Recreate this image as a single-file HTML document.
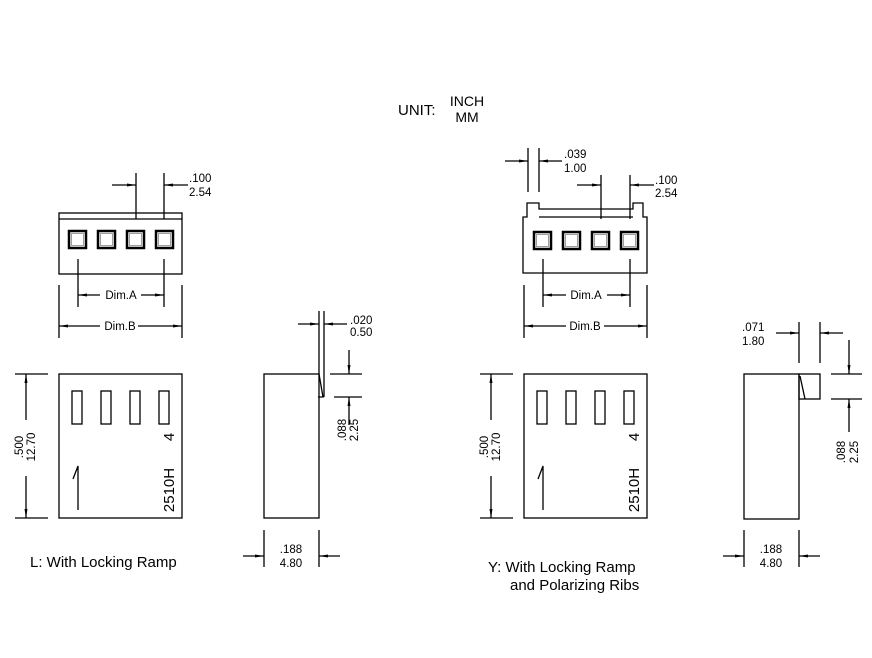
<!DOCTYPE html>
<html><head><meta charset="utf-8"><style>
body{margin:0;background:#fff}
svg{display:block}
text{font-family:"Liberation Sans",sans-serif;fill:#000}
</style></head><body>
<svg width="872" height="658" viewBox="0 0 872 658" xmlns="http://www.w3.org/2000/svg">
<defs>
<marker id="a" markerWidth="10" markerHeight="6" refX="9" refY="3" orient="auto" markerUnits="userSpaceOnUse">
<path d="M0,1.5 L9,3 L0,4.5 Z" fill="#000"/></marker>
</defs>
<g stroke="#000" stroke-width="1.3" fill="none">
<!-- LEFT TOP VIEW -->
<rect x="59" y="213" width="123" height="61"/>
<line x1="59" y1="219" x2="182" y2="219"/>
<g stroke-width="2.5"><rect x="69" y="231" width="17" height="17"/><rect x="98" y="231" width="17" height="17"/><rect x="127" y="231" width="17" height="17"/><rect x="156" y="231" width="17" height="17"/></g>
<g stroke="#888" stroke-width="0.8"><rect x="71.5" y="233.5" width="12" height="12"/><rect x="100.5" y="233.5" width="12" height="12"/><rect x="129.5" y="233.5" width="12" height="12"/><rect x="158.5" y="233.5" width="12" height="12"/></g>
<line x1="136" y1="173" x2="136" y2="219"/><line x1="164" y1="173" x2="164" y2="219"/>
<line x1="112" y1="185" x2="136" y2="185" marker-end="url(#a)"/>
<line x1="188" y1="185" x2="164" y2="185" marker-end="url(#a)"/>
<line x1="78" y1="259" x2="78" y2="307"/><line x1="164" y1="259" x2="164" y2="307"/>
<line x1="100" y1="295" x2="78" y2="295" marker-end="url(#a)"/><line x1="141" y1="295" x2="164" y2="295" marker-end="url(#a)"/>
<line x1="59" y1="285" x2="59" y2="338"/><line x1="182" y1="285" x2="182" y2="338"/>
<line x1="100" y1="326" x2="59" y2="326" marker-end="url(#a)"/><line x1="138" y1="326" x2="182" y2="326" marker-end="url(#a)"/>
<!-- LEFT FRONT -->
<rect x="59" y="374" width="123" height="144"/>
<rect x="72" y="391" width="10" height="33"/><rect x="101" y="391" width="10" height="33"/><rect x="130" y="391" width="10" height="33"/><rect x="159" y="391" width="10" height="33"/>
<path d="M78,510 L78,466 L73,479"/>
<line x1="15" y1="374" x2="48" y2="374"/><line x1="15" y1="518" x2="48" y2="518"/>
<line x1="26" y1="420" x2="26" y2="374" marker-end="url(#a)"/><line x1="26" y1="476" x2="26" y2="518" marker-end="url(#a)"/>
<!-- LEFT SIDE -->
<rect x="264" y="374" width="55" height="144"/>
<path d="M319,374 L323,397 L318,397"/>
<line x1="319" y1="311" x2="319" y2="374"/><line x1="324" y1="311" x2="324" y2="397"/>
<line x1="298" y1="324" x2="319" y2="324" marker-end="url(#a)"/><line x1="347" y1="324" x2="324" y2="324" marker-end="url(#a)"/>
<line x1="330" y1="374" x2="362" y2="374"/><line x1="334" y1="397" x2="362" y2="397"/>
<line x1="349" y1="350" x2="349" y2="374" marker-end="url(#a)"/><line x1="349" y1="425" x2="349" y2="397" marker-end="url(#a)"/>
<line x1="264" y1="530" x2="264" y2="567"/><line x1="319" y1="530" x2="319" y2="567"/>
<line x1="243" y1="556" x2="264" y2="556" marker-end="url(#a)"/><line x1="340" y1="556" x2="319" y2="556" marker-end="url(#a)"/>
<!-- RIGHT TOP VIEW -->
<path d="M523,273 L523,217 L527,217 L527,203 L539,203 L539,209 L633,209 L633,203 L643,203 L643,217 L647,217 L647,273 Z"/>
<line x1="539" y1="217" x2="633" y2="217"/>
<g stroke-width="2.5"><rect x="534" y="232" width="17" height="17"/><rect x="563" y="232" width="17" height="17"/><rect x="592" y="232" width="17" height="17"/><rect x="621" y="232" width="17" height="17"/></g>
<g stroke="#888" stroke-width="0.8"><rect x="536.5" y="234.5" width="12" height="12"/><rect x="565.5" y="234.5" width="12" height="12"/><rect x="594.5" y="234.5" width="12" height="12"/><rect x="623.5" y="234.5" width="12" height="12"/></g>
<line x1="528" y1="148" x2="528" y2="192"/><line x1="539" y1="148" x2="539" y2="192"/>
<line x1="505" y1="161" x2="528" y2="161" marker-end="url(#a)"/><line x1="562" y1="161" x2="539" y2="161" marker-end="url(#a)"/>
<line x1="601" y1="175" x2="601" y2="219"/><line x1="630" y1="175" x2="630" y2="219"/>
<line x1="577" y1="185" x2="601" y2="185" marker-end="url(#a)"/><line x1="654" y1="185" x2="630" y2="185" marker-end="url(#a)"/>
<line x1="543" y1="259" x2="543" y2="307"/><line x1="630" y1="259" x2="630" y2="307"/>
<line x1="566" y1="295" x2="543" y2="295" marker-end="url(#a)"/><line x1="607" y1="295" x2="630" y2="295" marker-end="url(#a)"/>
<line x1="524" y1="285" x2="524" y2="338"/><line x1="647" y1="285" x2="647" y2="338"/>
<line x1="566" y1="326" x2="524" y2="326" marker-end="url(#a)"/><line x1="604" y1="326" x2="647" y2="326" marker-end="url(#a)"/>
<!-- RIGHT FRONT -->
<rect x="524" y="374" width="123" height="144"/>
<rect x="537" y="391" width="10" height="33"/><rect x="566" y="391" width="10" height="33"/><rect x="595" y="391" width="10" height="33"/><rect x="624" y="391" width="10" height="33"/>
<path d="M543,510 L543,466 L538,479"/>
<line x1="480" y1="374" x2="513" y2="374"/><line x1="480" y1="518" x2="513" y2="518"/>
<line x1="491" y1="420" x2="491" y2="374" marker-end="url(#a)"/><line x1="491" y1="476" x2="491" y2="518" marker-end="url(#a)"/>
<!-- RIGHT SIDE -->
<rect x="744" y="374" width="55" height="145"/>
<rect x="799" y="374" width="21" height="25"/>
<line x1="800" y1="376" x2="805" y2="399"/>
<line x1="799" y1="322" x2="799" y2="363"/><line x1="820" y1="322" x2="820" y2="363"/>
<line x1="776" y1="333" x2="799" y2="333" marker-end="url(#a)"/><line x1="843" y1="333" x2="820" y2="333" marker-end="url(#a)"/>
<line x1="831" y1="374" x2="862" y2="374"/><line x1="831" y1="399" x2="862" y2="399"/>
<line x1="849" y1="340" x2="849" y2="374" marker-end="url(#a)"/><line x1="849" y1="432" x2="849" y2="399" marker-end="url(#a)"/>
<line x1="744" y1="530" x2="744" y2="567"/><line x1="799" y1="530" x2="799" y2="567"/>
<line x1="723" y1="556" x2="744" y2="556" marker-end="url(#a)"/><line x1="820" y1="556" x2="799" y2="556" marker-end="url(#a)"/>
</g>
<g font-size="11.5">
<text x="189" y="182">.100</text><text x="189" y="196">2.54</text>
<text x="121" y="299" text-anchor="middle">Dim.A</text>
<text x="120" y="330" text-anchor="middle">Dim.B</text>
<text x="350" y="324">.020</text><text x="350" y="336">0.50</text>
<text x="291" y="553" text-anchor="middle">.188</text><text x="291" y="567" text-anchor="middle">4.80</text>
<text transform="translate(346,430) rotate(-90)" text-anchor="middle">.088</text>
<text transform="translate(358,430) rotate(-90)" text-anchor="middle">2.25</text>
<text transform="translate(23,447) rotate(-90)" text-anchor="middle">.500</text>
<text transform="translate(35,447) rotate(-90)" text-anchor="middle">12.70</text>
<text transform="translate(488,447) rotate(-90)" text-anchor="middle">.500</text>
<text transform="translate(500,447) rotate(-90)" text-anchor="middle">12.70</text>
<text x="564" y="158">.039</text><text x="564" y="172">1.00</text>
<text x="655" y="184">.100</text><text x="655" y="197">2.54</text>
<text x="586" y="299" text-anchor="middle">Dim.A</text>
<text x="585" y="330" text-anchor="middle">Dim.B</text>
<text x="742" y="331">.071</text><text x="742" y="345">1.80</text>
<text transform="translate(845,452) rotate(-90)" text-anchor="middle">.088</text>
<text transform="translate(858,452) rotate(-90)" text-anchor="middle">2.25</text>
<text x="771" y="553" text-anchor="middle">.188</text><text x="771" y="567" text-anchor="middle">4.80</text>
</g>
<g font-size="15">
<text transform="translate(174,437) rotate(-90)" text-anchor="middle">4</text>
<text transform="translate(174,490) rotate(-90)" text-anchor="middle">2510H</text>
<text transform="translate(639,437) rotate(-90)" text-anchor="middle">4</text>
<text transform="translate(639,490) rotate(-90)" text-anchor="middle">2510H</text>
<text x="30" y="567">L: With Locking Ramp</text>
<text x="488" y="572">Y: With Locking Ramp</text>
<text x="510" y="590">and Polarizing Ribs</text>
<text x="398" y="115">UNIT:</text>
<text x="467" y="106" text-anchor="middle" font-size="14">INCH</text>
<text x="467" y="122" text-anchor="middle" font-size="14">MM</text>
</g>
</svg>
</body></html>
